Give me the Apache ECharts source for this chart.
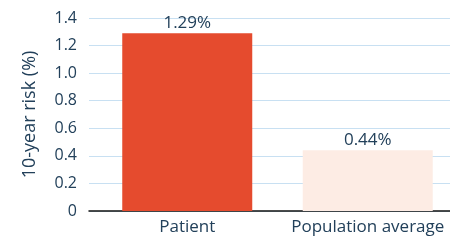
<!DOCTYPE html>
<html>
<head>
<meta charset="utf-8">
<script src="https://cdn.jsdelivr.net/npm/echarts@6/dist/echarts.min.js"></script>
<style>
  html, body { margin: 0; padding: 0; background: #fff; }
  #chart { width: 450px; height: 240px; }
</style>
</head>
<body>
<div id="chart"></div>
<script>
var categories = ['Patient', 'Population average'];
var riskValues = [1.29, 0.44];
var barColors = ['#E54B2E', '#FDECE4'];

var textColor = '#22405A';
var fontName = 'Open Sans';

var chart = echarts.init(document.getElementById('chart'));

var option = {
  animation: false,
  grid: [
    // grid for the value axis, gridlines and zero line
    { left: 89, right: 0, top: 18, bottom: 29, outerBoundsMode: 'none' },
    // grid for the bars (bands are shifted a bit to the right)
    { left: 97, right: -8, top: 18, bottom: 29, outerBoundsMode: 'none' }
  ],
  xAxis: [
    {
      gridIndex: 0,
      type: 'category',
      data: ['', ''],
      axisLine: { show: true, lineStyle: { color: '#111', width: 1.5 } },
      axisTick: { show: false },
      axisLabel: { show: false }
    },
    {
      gridIndex: 1,
      type: 'category',
      data: categories,
      axisLine: { show: false },
      axisTick: { show: false },
      axisLabel: {
        interval: 0,
        hideOverlap: false,
        color: textColor,
        fontFamily: fontName,
        fontSize: 17,
        margin: 8
      }
    }
  ],
  yAxis: [
    {
      gridIndex: 0,
      type: 'value',
      min: 0,
      max: 1.4,
      interval: 0.2,
      name: '10-year risk (%)',
      nameLocation: 'middle',
      nameGap: 50,
      nameTextStyle: {
        color: textColor,
        fontFamily: fontName,
        fontSize: 18
      },
      axisLine: { show: false },
      axisTick: { show: false },
      axisLabel: {
        color: textColor,
        fontFamily: fontName,
        fontSize: 16,
        margin: 12,
        formatter: function (v) {
          return v === 0 ? '0' : v.toFixed(1);
        }
      },
      splitLine: { lineStyle: { color: '#C8E0F2', width: 1 } }
    },
    {
      gridIndex: 1,
      type: 'value',
      min: 0,
      max: 1.4,
      interval: 0.2,
      show: false,
      splitLine: { show: false }
    }
  ],
  series: [
    {
      type: 'bar',
      xAxisIndex: 1,
      yAxisIndex: 1,
      barWidth: 130,
      z: 1,
      data: riskValues.map(function (v, i) {
        return { value: v, itemStyle: { color: barColors[i] } };
      }),
      label: {
        show: true,
        position: 'top',
        distance: 2,
        color: textColor,
        fontFamily: fontName,
        fontSize: 17,
        formatter: function (p) {
          return p.value.toFixed(2) + '%';
        }
      }
    }
  ]
};

chart.setOption(option);
</script>
</body>
</html>
